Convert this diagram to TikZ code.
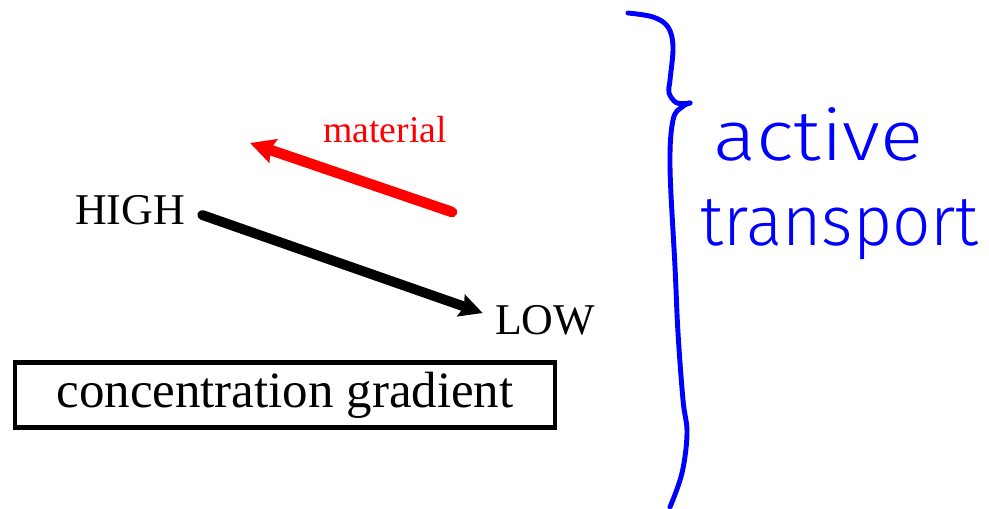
\documentclass[tikz,border=0pt]{standalone}
\usepackage{fontspec}
\setmainfont{Liberation Serif}
\newfontfamily\handfont{Fira Sans}[UprightFont=* Light]
\usetikzlibrary{arrows.meta}

\begin{document}
\begin{tikzpicture}[x=0.02cm, y=-0.02cm]
    \useasboundingbox (0,0) rectangle (989,508);

    % gradient labels
    \node[inner sep=0pt, font=\fontsize{25}{28}\selectfont] (high) at (130,210) {HIGH};
    \node[inner sep=0pt, font=\fontsize{25}{28}\selectfont] (low) at (545,320) {LOW};
    \node[inner sep=0pt, red, font=\fontsize{21.5}{24}\selectfont] (mat) at (385,130) {material};

    \node[draw, line width=2.3pt, minimum width=10.8cm, minimum height=1.3cm, font=\fontsize{29}{32}\selectfont] (grad) at (285,395) {concentration gradient};

    \draw[line width=5.6pt, line cap=round, -{Stealth[length=13pt, width=13pt, inset=2pt]}] ([shift={(17,5)}]high.east) -- ([shift={(-12,-7)}]low.west);

    \coordinate (mfrom) at (452,212);
    \coordinate (mto) at (250,143);
    \draw[red, line width=6pt, line cap=round, -{Stealth[length=14pt, width=14pt, inset=2pt]}] (mfrom) -- (mto);

    % brace
    \draw[blue, line width=2.8pt, line cap=round, line join=round] plot[smooth, tension=0.6] coordinates {(628,13) (653,17) (668,27) (673,47) (670,80) (669,93) (677,103) (690,103)};
    \draw[blue, line width=2.8pt, line cap=round, line join=round] plot[smooth, tension=0.6] coordinates {(690,103) (682,107) (673,120) (670,167) (675,267) (678,333) (683,400) (687,433) (682,473) (670,507)};

    \node[blue, inner sep=0pt, anchor=base west, xscale=1.14, transform shape, font=\handfont\fontsize{40}{44}\selectfont] (act) at (713,160) {active};
    \node[blue, inner sep=0pt, anchor=base west, xscale=0.96, transform shape, font=\handfont\fontsize{40}{44}\selectfont] (tra) at (700,245) {transport};
\end{tikzpicture}
\end{document}
